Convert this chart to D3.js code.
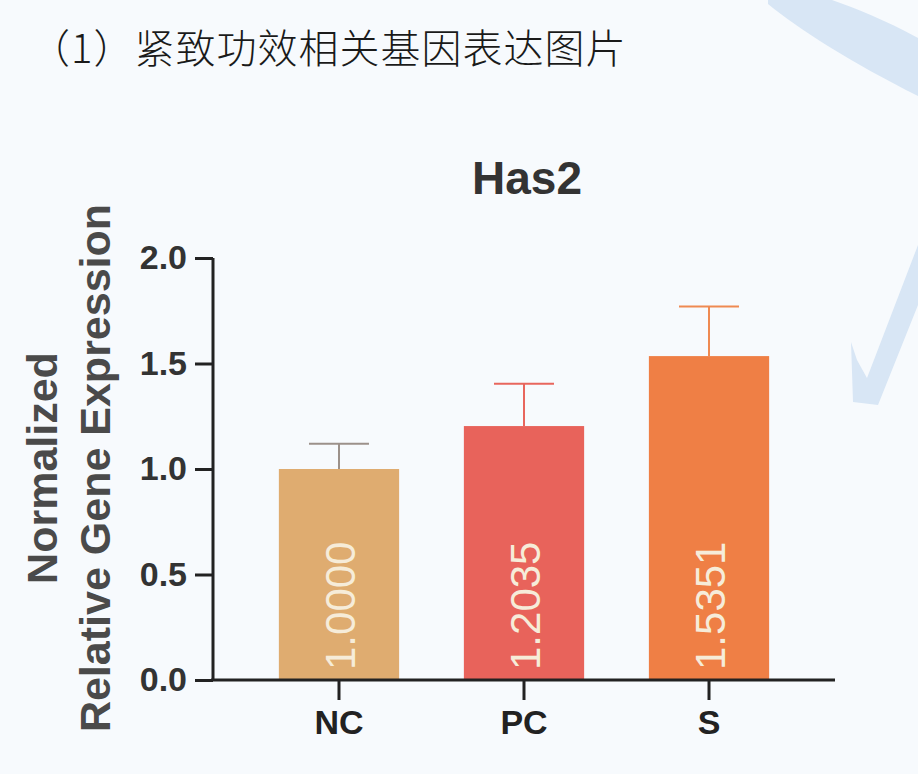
<!DOCTYPE html>
<html>
<head>
<meta charset="utf-8">
<script src="https://cdn.jsdelivr.net/npm/d3@7"></script>
<style>
  html, body { margin: 0; padding: 0; background: #f7fafd; }
  svg { display: block; }
</style>
</head>
<body>
<svg id="chart" width="918" height="774"></svg>
<script>
// ---- data ----
const categories = ["NC", "PC", "S"];
const values = [1.0000, 1.2035, 1.5351];
const errors = [0.12, 0.20, 0.235];
const valueLabels = ["1.0000", "1.2035", "1.5351"];
const yTicks = [0.0, 0.5, 1.0, 1.5, 2.0];
const barColors = ["#dfac70", "#e8635b", "#ef7f45"];
const errColors = ["#9c918a", "#e8665d", "#ef8a52"];
const pageTitle = "（1）紧致功效相关基因表达图片";
const chartTitle = "Has2";
const yTitleLines = ["Normalized", "Relative Gene Expression"];

const svg = d3.select("#chart");

// background
svg.append("rect").attr("width", 918).attr("height", 774).attr("fill", "#f7fafd");
// decorative swoosh top right
svg.append("path")
  .attr("d", "M768,4 C800,30 850,62 918,96 L918,38 C885,20 855,8 832,0 L768,0 Z")
  .attr("fill", "#d8e6f5");
// decorative check mark
svg.append("path")
  .attr("d", "M851,342 L853,402 L878,405 L918,305 L918,245 L867,378 L857,360 Z")
  .attr("fill", "#d8e6f5");

// page title
svg.append("text")
  .attr("x", 30).attr("y", 63)
  .attr("font-family", "'Noto Sans CJK SC', sans-serif")
  .attr("font-size", 40).attr("font-weight", 300)
  .attr("letter-spacing", 1)
  .attr("fill", "#1a1a1a")
  .text(pageTitle);

// scales
const x = d3.scaleBand().domain(categories).range([213, 835])
  .paddingInner(0.35).paddingOuter(0.356);
const y = d3.scaleLinear().domain([0, 2]).range([680, 258]);

const font = "'Liberation Sans', Arial, sans-serif";

// chart title
svg.append("text")
  .attr("x", (x("NC") + x("S") + x.bandwidth()) / 2 + 3).attr("y", 194)
  .attr("text-anchor", "middle")
  .attr("font-family", font).attr("font-size", 46).attr("font-weight", "bold")
  .attr("fill", "#333")
  .text(chartTitle);

// y title
const yt = svg.append("text")
  .attr("transform", "translate(0,468) rotate(-90)")
  .attr("text-anchor", "middle")
  .attr("font-family", font).attr("font-size", 43).attr("font-weight", "bold")
  .attr("fill", "#4a4a4a");
yt.append("tspan").attr("x", 0).attr("y", 57).text(yTitleLines[0]);
yt.append("tspan").attr("x", 0).attr("y", 110).text(yTitleLines[1]);

// bars
svg.selectAll("rect.bar").data(categories).enter().append("rect")
  .attr("class", "bar")
  .attr("x", d => x(d))
  .attr("y", (d, i) => y(values[i]))
  .attr("width", x.bandwidth())
  .attr("height", (d, i) => y(0) - y(values[i]))
  .attr("fill", (d, i) => barColors[i]);

// error bars
const eg = svg.selectAll("g.err").data(categories).enter().append("g").attr("class", "err");
eg.append("line")
  .attr("x1", d => x(d) + x.bandwidth() / 2)
  .attr("x2", d => x(d) + x.bandwidth() / 2)
  .attr("y1", (d, i) => y(values[i]))
  .attr("y2", (d, i) => y(values[i] + errors[i]))
  .attr("stroke", (d, i) => errColors[i]).attr("stroke-width", 2);
eg.append("line")
  .attr("x1", d => x(d) + x.bandwidth() / 2 - 30)
  .attr("x2", d => x(d) + x.bandwidth() / 2 + 30)
  .attr("y1", (d, i) => y(values[i] + errors[i]))
  .attr("y2", (d, i) => y(values[i] + errors[i]))
  .attr("stroke", (d, i) => errColors[i]).attr("stroke-width", 2);

// value labels inside bars
svg.selectAll("text.val").data(categories).enter().append("text")
  .attr("class", "val")
  .attr("transform", d => `translate(${x(d) + x.bandwidth() / 2 + 16},${y(0) - 10}) rotate(-90)`)
  .attr("font-family", font).attr("font-size", 42)
  .attr("fill", "#f6ecd9")
  .text((d, i) => valueLabels[i]);

// y axis
const yAxis = d3.axisLeft(y).tickValues(yTicks).tickFormat(d3.format(".1f"))
  .tickSize(18).tickPadding(8);
const ga = svg.append("g").attr("transform", "translate(213,0)").call(yAxis);
ga.select(".domain").attr("d", `M0,${y(2)}V${y(0)}`).attr("stroke", "#222").attr("stroke-width", 3);
ga.selectAll(".tick line").attr("stroke", "#222").attr("stroke-width", 3);
ga.selectAll(".tick text").attr("font-family", font).attr("font-size", 34)
  .attr("font-weight", "bold").attr("fill", "#333");

// x axis
const xAxis = d3.axisBottom(x).tickSize(20).tickPadding(10);
const gx = svg.append("g").attr("transform", `translate(0,${y(0)})`).call(xAxis);
gx.select(".domain").attr("d", "M211,0H835").attr("stroke", "#222").attr("stroke-width", 3);
gx.selectAll(".tick line").attr("stroke", "#222").attr("stroke-width", 3);
gx.selectAll(".tick text").attr("font-family", font).attr("font-size", 34)
  .attr("font-weight", "bold").attr("fill", "#222");
</script>
</body>
</html>
